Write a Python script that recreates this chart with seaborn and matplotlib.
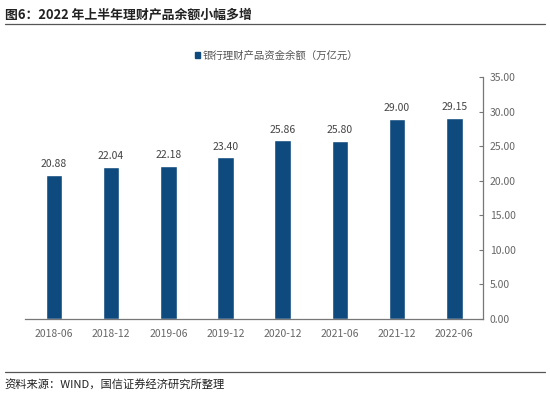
import numpy as np
import pandas as pd
import seaborn as sns
import matplotlib.pyplot as plt
from matplotlib.patches import Patch

# data
dates = ["2018-06", "2018-12", "2019-06", "2019-12", "2020-12", "2021-06", "2021-12", "2022-06"]
balance = [20.88, 22.04, 22.18, 23.40, 25.86, 25.80, 29.00, 29.15]
yticks = [0, 5, 10, 15, 20, 25, 30, 35]

series_name = "银行理财产品资金余额（万亿元）"
bar_color = "#0F4A7E"

sns.set_style("white")
plt.rcParams['font.family'] = ['Noto Sans CJK SC', 'DejaVu Sans']

df = pd.DataFrame({"date": dates, "balance": balance})

fig = plt.figure(figsize=(5.5, 3.96), dpi=100)
ax = fig.add_axes([0.046, 0.195, 0.832, 0.61])

sns.barplot(data=df, x="date", y="balance", color=bar_color, width=0.29,
            saturation=1, ax=ax)

# value labels
for i, v in enumerate(balance):
    ax.text(i, v + 0.8, f"{v:.2f}", ha="center", va="bottom",
            fontsize=7.5, color="#444444")

ax.set_xlim(-0.5, len(dates) - 0.5)
ax.set_ylim(0, 35)
ax.set_xlabel("")
ax.set_ylabel("")

# y axis on the right
ax.yaxis.tick_right()
ax.set_yticks(yticks)
ax.set_yticklabels([f"{t:.2f}" for t in yticks], fontsize=7.5, color="#666666")
ax.tick_params(axis="y", direction="in", length=3, width=0.8, color="#777777", pad=5)

# x ticks at category boundaries, labels centred on bars
ax.set_xticks(np.arange(len(dates)))
ax.set_xticklabels(dates, fontsize=7.5, color="#666666")
ax.tick_params(axis="x", length=0, pad=7)
ax.set_xticks(np.arange(len(dates) + 1) - 0.5, minor=True)
ax.tick_params(axis="x", which="minor", direction="out", length=3, width=0.8, color="#777777")

for s in ["top", "left"]:
    ax.spines[s].set_visible(False)
for s in ["bottom", "right"]:
    ax.spines[s].set_color("#777777")
    ax.spines[s].set_linewidth(0.9)

# legend
handle = Patch(facecolor=bar_color, edgecolor=bar_color, label=series_name)
fig.legend(handles=[handle], loc="center", bbox_to_anchor=(0.503, 0.86),
           frameon=False, fontsize=7.5, handlelength=0.45, handleheight=0.45,
           handletextpad=0.3, labelcolor="#555555")

# title and separator lines
fig.text(0.009, 0.964, "图6：2022 年上半年理财产品余额小幅多增", fontsize=9.3,
         fontweight="bold", color="#222222", ha="left", va="center")
fig.add_artist(plt.Line2D([0.009, 0.991], [0.94, 0.94], color="#555555", lw=0.9))
fig.add_artist(plt.Line2D([0.009, 0.991], [0.06, 0.06], color="#555555", lw=0.9))
fig.text(0.009, 0.028, "资料来源：WIND，国信证券经济研究所整理", fontsize=8.1,
         color="#222222", ha="left", va="center")

fig.savefig("out.png", dpi=100)
